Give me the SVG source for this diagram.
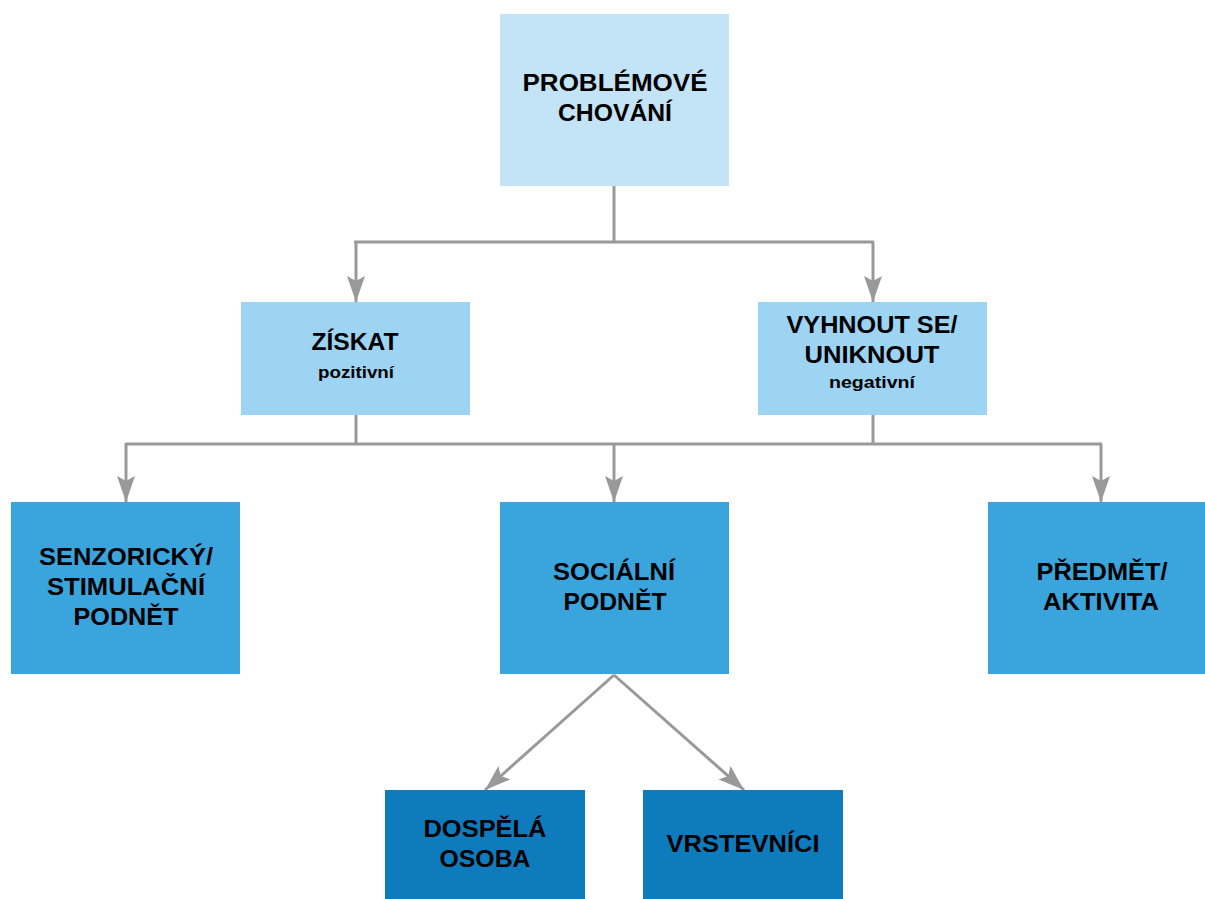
<svg xmlns="http://www.w3.org/2000/svg" width="1205" height="899" viewBox="0 0 1205 899">
<style>
.t{font-family:"Liberation Sans",Arial,sans-serif;font-weight:bold;font-size:23.5px;fill:#000;text-anchor:middle}
.s{font-family:"Liberation Sans",Arial,sans-serif;font-weight:bold;font-size:16px;fill:#000;text-anchor:middle}
.c{fill:none;stroke:#999;stroke-width:3}
.l1{fill:#c3e4f6}.l2{fill:#9dd3f3}.l3{fill:#3aa4dd}.l4{fill:#0e7bbd}
</style>
<defs>
<marker id="ah" markerUnits="userSpaceOnUse" markerWidth="26" markerHeight="24" viewBox="0 0 26 24" refX="26" refY="12" orient="auto">
<path d="M0,3 L26,12 L0,21 L5,12 Z" fill="#999"/>
</marker>
</defs>
<g id="connectors">
<path class="c" d="M614,186 V242 M354,242 H874"/>
<path class="c" d="M356,242 V302" marker-end="url(#ah)"/>
<path class="c" d="M873,242 V302" marker-end="url(#ah)"/>
<path class="c" d="M356,415 V444 M873,415 V444 M125,444 H1102"/>
<path class="c" d="M126,444 V502" marker-end="url(#ah)"/>
<path class="c" d="M614,444 V502" marker-end="url(#ah)"/>
<path class="c" d="M1101,444 V502" marker-end="url(#ah)"/>
<path class="c" d="M614,675 L485,790" marker-end="url(#ah)"/>
<path class="c" d="M614,675 L744,790" marker-end="url(#ah)"/>
</g>
<g id="n-problemove">
<rect class="l1" x="500" y="14" width="229" height="172"/>
<text class="t" x="615" y="91" textLength="185" lengthAdjust="spacingAndGlyphs">PROBLÉMOVÉ</text>
<text class="t" x="615" y="121" textLength="114" lengthAdjust="spacingAndGlyphs">CHOVÁNÍ</text>
</g>
<g id="n-ziskat">
<rect class="l2" x="241" y="302" width="229" height="113"/>
<text class="t" x="355" y="350" textLength="87" lengthAdjust="spacingAndGlyphs">ZÍSKAT</text>
<text class="s" x="356" y="378" textLength="76" lengthAdjust="spacingAndGlyphs">pozitivní</text>
</g>
<g id="n-vyhnout">
<rect class="l2" x="758" y="302" width="229" height="113"/>
<text class="t" x="872" y="333" textLength="171" lengthAdjust="spacingAndGlyphs">VYHNOUT SE/</text>
<text class="t" x="872" y="363" textLength="135" lengthAdjust="spacingAndGlyphs">UNIKNOUT</text>
<text class="s" x="872" y="388" textLength="86" lengthAdjust="spacingAndGlyphs">negativní</text>
</g>
<g id="n-senzoricky">
<rect class="l3" x="11" y="502" width="229" height="172"/>
<text class="t" x="126" y="565" textLength="174" lengthAdjust="spacingAndGlyphs">SENZORICKÝ/</text>
<text class="t" x="126" y="595" textLength="158" lengthAdjust="spacingAndGlyphs">STIMULAČNÍ</text>
<text class="t" x="126" y="625" textLength="105" lengthAdjust="spacingAndGlyphs">PODNĚT</text>
</g>
<g id="n-socialni">
<rect class="l3" x="500" y="502" width="229" height="172"/>
<text class="t" x="614" y="580" textLength="122" lengthAdjust="spacingAndGlyphs">SOCIÁLNÍ</text>
<text class="t" x="615" y="610" textLength="103" lengthAdjust="spacingAndGlyphs">PODNĚT</text>
</g>
<g id="n-predmet">
<rect class="l3" x="988" y="502" width="229" height="172"/>
<text class="t" x="1102" y="580" textLength="131" lengthAdjust="spacingAndGlyphs">PŘEDMĚT/</text>
<text class="t" x="1101" y="610" textLength="116" lengthAdjust="spacingAndGlyphs">AKTIVITA</text>
</g>
<g id="n-dospela">
<rect class="l4" x="385" y="790" width="200" height="115"/>
<text class="t" x="485" y="837" textLength="123" lengthAdjust="spacingAndGlyphs">DOSPĚLÁ</text>
<text class="t" x="485" y="867" textLength="91" lengthAdjust="spacingAndGlyphs">OSOBA</text>
</g>
<g id="n-vrstevnici">
<rect class="l4" x="643" y="790" width="200" height="115"/>
<text class="t" x="743" y="852" textLength="153" lengthAdjust="spacingAndGlyphs">VRSTEVNÍCI</text>
</g>
</svg>
